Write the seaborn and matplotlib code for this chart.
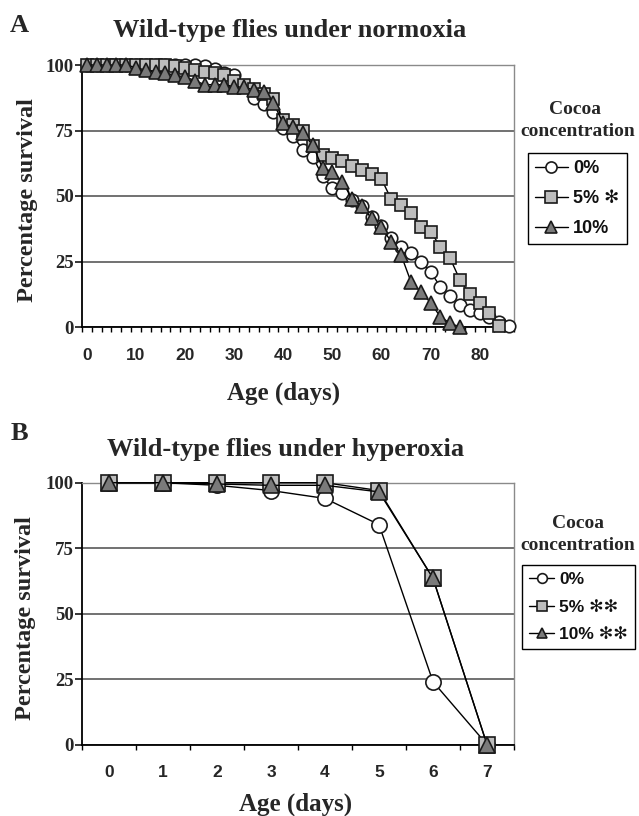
import numpy as np
import pandas as pd
import matplotlib
matplotlib.use("Agg")
import matplotlib.pyplot as plt
import seaborn as sns

# ---------------- data ----------------
days_a = list(range(0, 87, 2))
surv_a_0 = [100, 100, 100, 100, 100, 100, 100, 100, 100, 100, 100, 100, 99.5, 98.5, 97, 96,
            92, 87.5, 85, 82, 76, 73, 67.5, 65, 57.5, 53, 51, 48.5, 46, 42, 38.5, 34,
            30.5, 28.3, 25, 21, 15.4, 11.7, 8.4, 6.5, 5.2, 3.9, 2, 0.5]
surv_a_5 = [100, 100, 100, 100, 100, 100, 100, 100, 100, 99.5, 99, 98, 97.5, 97, 96, 94,
            92.5, 91, 89, 87, 79, 77, 75, 69, 65.5, 64.5, 63.5, 61.5, 60, 58.5, 56.5, 48.7,
            46.6, 43.6, 38, 36.4, 30.7, 26.2, 17.9, 12.6, 9.3, 5.2, 0.5, np.nan]
surv_a_10 = [100, 100, 100, 100, 100, 99, 98, 97.5, 97, 96, 95.5, 94, 92.5, 92.5, 92.5, 91.7,
             91.5, 90.5, 89.8, 85.5, 77.7, 76.4, 73.9, 69.5, 60.6, 59.3, 55.5, 49, 46, 41.5, 38, 32.6,
             27.5, 17.3, 13.5, 9.3, 3.9, 1.4, 0, np.nan, np.nan, np.nan, np.nan, np.nan]

days_b = [0, 1, 2, 3, 4, 5, 6, 7]
surv_b_0 = [100, 100, 99, 97, 94, 84, 24, 0]
surv_b_5 = [100, 100, 100, 100, 100, 97, 63.5, 0]
surv_b_10 = [100, 100, 99.5, 99, 99, 96.5, 63.5, 0]

labels_a = ["0%", "5% \u273b", "10%"]
labels_b = ["0%", "5% \u273b\u273b", "10% \u273b\u273b"]
xticks_a = [0, 10, 20, 30, 40, 50, 60, 70, 80]
xticks_b = [0, 1, 2, 3, 4, 5, 6, 7]
yticks = [0, 25, 50, 75, 100]

# ---------------- style ----------------
sns.set_theme(style="white")
plt.rcParams['font.family'] = ['DejaVu Sans']
SERIF = ['Liberation Serif', 'DejaVu Serif']
SANS = ['Liberation Sans', 'DejaVu Sans']

W, H = 639, 816
fig = plt.figure(figsize=(W / 100, H / 100), dpi=100)
fig.patch.set_facecolor('white')

axA = fig.add_axes([82 / W, 1 - 327 / H, (514 - 82) / W, (327 - 65) / H])
axB = fig.add_axes([82 / W, 1 - 744.6 / H, (514 - 82) / W, (744.6 - 482.7) / H])

series_style = [
    dict(marker='o', markerfacecolor='white'),
    dict(marker='s', markerfacecolor='#bdbdbd'),
    dict(marker='^', markerfacecolor='#7a7a7a'),
]


def draw(ax, days, series, labels, msizes):
    for ys, lab, st, sz in zip(series, labels, series_style, msizes):
        df = pd.DataFrame({"day": days, "surv": ys}).dropna()
        sns.lineplot(data=df, x="day", y="surv", ax=ax, color='black', lw=1.0,
                     markeredgecolor='#1a1a1a', markeredgewidth=1.2, markersize=sz,
                     clip_on=False, label=lab, zorder=3, **st)


def style(ax, xlim, major, minor):
    ax.set_xlim(*xlim)
    ax.set_ylim(0, 100)
    ax.set_facecolor('white')
    ax.yaxis.grid(True, color='#4a4a4a', lw=1.1)
    ax.xaxis.grid(False)
    ax.set_axisbelow(True)
    for s in ['left', 'bottom']:
        ax.spines[s].set_color('black')
        ax.spines[s].set_linewidth(1.3)
    for s in ['top', 'right']:
        ax.spines[s].set_color('#8a8a8a')
        ax.spines[s].set_linewidth(1.0)
    ax.set_yticks(yticks, labels=[str(v) for v in yticks], fontfamily=SERIF,
                  fontweight='bold', fontsize=13.5)
    ax.set_xticks(major, labels=[str(v) for v in major], fontfamily=SANS,
                  fontweight='bold', fontsize=12.5)
    ax.set_xticks(minor, minor=True)
    ax.tick_params(axis='y', direction='out', length=5, width=1.1, color='black',
                   pad=1, left=True)
    ax.tick_params(axis='x', which='major', length=0, pad=15, bottom=True)
    ax.tick_params(axis='x', which='minor', direction='out', length=3.5, width=1.0,
                   color='black', bottom=True)
    ax.set_xlabel("Age (days)", fontfamily=SERIF, fontweight='bold', fontsize=18)
    ax.set_ylabel("Percentage survival", fontfamily=SERIF, fontweight='bold', fontsize=17.5)
    ax.xaxis.label.set_va('center')
    ax.yaxis.label.set_va('center')


draw(axA, days_a, [surv_a_0, surv_a_5, surv_a_10], labels_a, [9, 8.5, 9.5])
draw(axB, days_b, [surv_b_0, surv_b_5, surv_b_10], labels_b, [11, 11, 11.5])

style(axA, (-1, 87), xticks_a, list(range(-1, 88, 2)))
style(axB, (-0.5, 7.5), xticks_b, list(np.arange(-0.5, 7.6, 1.0)))

axA.xaxis.set_label_coords((284 - 82) / 432, (327 - 393) / 262)
axA.yaxis.set_label_coords((28 - 82) / 432, (327 - 200) / 262)
axB.xaxis.set_label_coords((296 - 82) / 432, (744.6 - 804) / 261.9)
axB.yaxis.set_label_coords((26 - 82) / 432, (744.6 - 618) / 261.9)


def legend(ax, x0, ytop, ms, hl, size):
    leg = ax.legend(loc='upper left', bbox_to_anchor=(x0 / W, 1 - ytop / H),
                    bbox_transform=fig.transFigure, frameon=True, fancybox=False,
                    edgecolor='black', framealpha=1, handlelength=hl, handletextpad=0.3,
                    labelspacing=0.72, borderpad=0.4, borderaxespad=0,
                    prop=dict(family=SANS, weight='bold', size=size))
    leg.get_frame().set_linewidth(1.0)
    for t in leg.get_texts():
        t.set_color('#111111')
    for h in leg.get_lines():
        h.set_markersize(ms)
    return leg


legend(axA, 528, 153, 8, 1.8, 13)
legend(axB, 522, 565, 7, 1.45, 12.5)

tkw = dict(fontfamily=SERIF, fontweight='bold', ha='center', va='center')
fig.text(575 / W, 1 - 110 / H, "Cocoa", fontsize=14, **tkw)
fig.text(578 / W, 1 - 132 / H, "concentration", fontsize=14, **tkw)
fig.text(578 / W, 1 - 523 / H, "Cocoa", fontsize=14, **tkw)
fig.text(578 / W, 1 - 546 / H, "concentration", fontsize=14, **tkw)

fig.text(290 / W, 1 - 31 / H, "Wild-type flies under normoxia", fontsize=19, **tkw)
fig.text(286 / W, 1 - 449 / H, "Wild-type flies under hyperoxia", fontsize=19, **tkw)
fig.text(19 / W, 1 - 26 / H, "A", fontsize=19, **tkw)
fig.text(19 / W, 1 - 433 / H, "B", fontsize=19, **tkw)

fig.savefig("out.png", dpi=100, facecolor='white')
